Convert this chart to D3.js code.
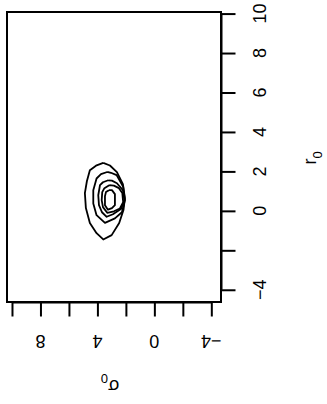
<!DOCTYPE html>
<html>
<head>
<meta charset="utf-8">
<script src="https://cdn.jsdelivr.net/npm/d3@7"></script>
<style>
  html, body { margin: 0; padding: 0; background: #fff; }
  svg { display: block; }
  text { font-family: "Liberation Sans", Arial, Helvetica, sans-serif; fill: #000; }
</style>
</head>
<body>
<svg id="chart" width="327" height="404"></svg>
<script>
// r0 axis ticks (drawn vertically on the right), sigma0 axis ticks (horizontal, reversed)
const r0Ticks = [-4, -2, 0, 2, 4, 6, 8, 10];
const r0Labels = [-4, 0, 2, 4, 6, 8, 10];
const s0Ticks = [-4, -2, 0, 2, 4, 6, 8, 10];
const s0Labels = [-4, 0, 4, 8];

// contour lines as [sigma0, r0] pairs (outer -> inner)
const contour1 = [[3.59,2.43],[4.10,2.29],[4.53,2.06],[4.74,1.50],[4.88,0.90],[4.81,0.14],[4.53,-0.62],[4.06,-1.13],[3.59,-1.45],[3.00,-1.23],[2.47,-0.62],[2.17,0.04],[2.07,0.64],[2.21,1.35],[2.63,1.96],[3.12,2.30],[3.59,2.43]];
const contour2 = [[3.31,1.97],[3.75,1.86],[4.06,1.64],[4.29,1.05],[4.29,0.37],[4.06,-0.22],[3.47,-0.61],[2.77,-0.38],[2.28,-0.07],[2.07,0.54],[2.19,1.22],[2.65,1.81],[3.05,1.93],[3.31,1.97]];
const contour3 = [[3.24,1.55],[3.61,1.45],[3.82,1.30],[3.94,0.79],[3.89,0.29],[3.68,-0.07],[3.35,-0.30],[2.91,-0.17],[2.35,0.09],[2.10,0.54],[2.21,1.05],[2.63,1.40],[2.98,1.53],[3.24,1.55]];
const contour4 = [[3.17,1.30],[3.51,1.15],[3.66,0.95],[3.70,0.54],[3.61,0.19],[3.31,-0.10],[2.84,-0.02],[2.42,0.12],[2.19,0.44],[2.25,0.90],[2.49,1.15],[2.84,1.28],[3.17,1.30]];
const contour5 = [[3.19,1.05],[3.40,0.95],[3.47,0.74],[3.47,0.29],[3.26,0.06],[2.98,0.14],[2.77,0.29],[2.77,0.85],[2.98,1.05],[3.19,1.05]];
const contours = [contour1, contour2, contour3, contour4, contour5];

const svg = d3.select('#chart');

// plot box
const boxL = 7, boxR = 221, boxT = 12, boxB = 302;

// sigma0 runs right-to-left, r0 runs bottom-to-top
const x = d3.scaleLinear().domain([10.35, -4.68]).range([boxL, boxR]);
const y = d3.scaleLinear().domain([-4.62, 10.08]).range([boxB, boxT]);

svg.append('rect')
  .attr('x', boxL).attr('y', boxT)
  .attr('width', boxR - boxL).attr('height', boxB - boxT)
  .attr('fill', 'none').attr('stroke', '#000').attr('stroke-width', 2);

// contours
const line = d3.line().x(d => x(d[0])).y(d => y(d[1]));
svg.append('g')
  .selectAll('path')
  .data(contours)
  .join('path')
  .attr('d', line)
  .attr('fill', 'none')
  .attr('stroke', '#000')
  .attr('stroke-width', 1.8)
  .attr('stroke-linejoin', 'round');

// r0 axis on the right
const rAxis = svg.append('g')
  .attr('transform', `translate(${boxR + 0.5},0)`)
  .call(d3.axisRight(y).tickValues(r0Ticks).tickSize(14).tickSizeOuter(0).tickFormat(''));
rAxis.select('.domain').attr('d', `M0,${y(-4)}V${y(10)}`).attr('stroke-width', 2);
rAxis.selectAll('.tick line').attr('stroke-width', 2);

svg.append('g')
  .selectAll('text')
  .data(r0Labels)
  .join('text')
  .attr('transform', d => `translate(260,${y(d)}) rotate(-90)`)
  .attr('text-anchor', 'middle')
  .attr('dominant-baseline', 'central')
  .style('font-size', '18px')
  .text(d => d < 0 ? '\u2212' + Math.abs(d) : d);

// sigma0 axis on the bottom
const sAxis = svg.append('g')
  .attr('transform', `translate(0,${boxB + 0.5})`)
  .call(d3.axisBottom(x).tickValues(s0Ticks).tickSize(14).tickSizeOuter(0).tickFormat(''));
sAxis.select('.domain').attr('d', `M${x(10)},0H${x(-4)}`).attr('stroke-width', 2);
sAxis.selectAll('.tick line').attr('stroke-width', 2);

svg.append('g')
  .selectAll('text')
  .data(s0Labels)
  .join('text')
  .attr('transform', d => `translate(${x(d)},341) rotate(180)`)
  .attr('text-anchor', 'middle')
  .attr('dominant-baseline', 'central')
  .style('font-size', '18px')
  .text(d => d < 0 ? '\u2212' + Math.abs(d) : d);

// axis titles
const rTitle = svg.append('text')
  .attr('transform', 'translate(310,158) rotate(-90)')
  .attr('text-anchor', 'middle')
  .attr('dominant-baseline', 'central')
  .style('font-size', '18px');
rTitle.append('tspan').text('r');
rTitle.append('tspan').attr('baseline-shift', 'sub').style('font-size', '13px').text('0');

const sTitle = svg.append('text')
  .attr('transform', 'translate(110,386) rotate(180)')
  .attr('text-anchor', 'middle')
  .attr('dominant-baseline', 'central')
  .style('font-size', '18px');
sTitle.append('tspan').text('\u03c3');
sTitle.append('tspan').attr('baseline-shift', 'sub').style('font-size', '13px').text('0');
</script>
</body>
</html>
